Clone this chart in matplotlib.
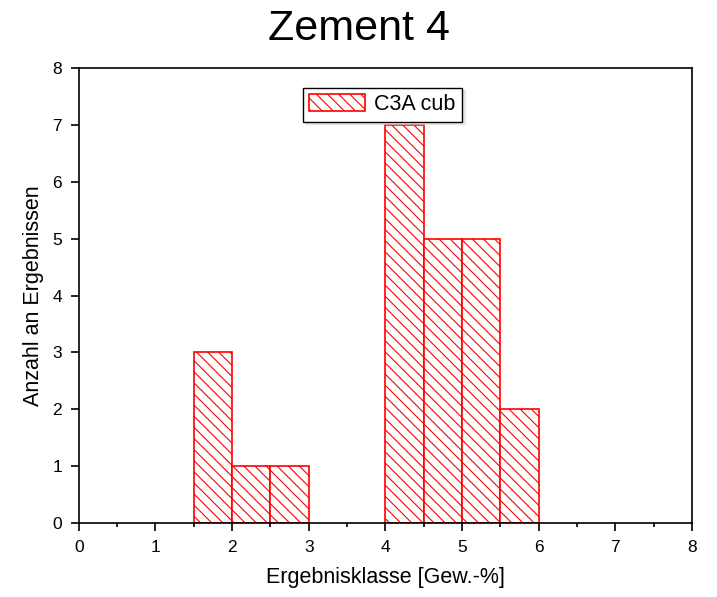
import numpy as np
import matplotlib
matplotlib.use('Agg')
import matplotlib.pyplot as plt
from matplotlib.ticker import MultipleLocator

plt.rcParams['font.family'] = ['Liberation Sans', 'DejaVu Sans']
plt.rcParams['hatch.color'] = 'red'
plt.rcParams['hatch.linewidth'] = 0.8

# Klassengrenzen (links) und Anzahl
bin_left = [1.5, 2.0, 2.5, 4.0, 4.5, 5.0, 5.5]
counts = [3, 1, 1, 7, 5, 5, 2]
bin_width = 0.5

fig = plt.figure(figsize=(7.17, 5.97), dpi=100)
ax = fig.add_axes([0.110, 0.124, 0.855, 0.762])

ax.bar(bin_left, counts, width=bin_width, align='edge', facecolor='white',
       edgecolor='red', linewidth=1.2, hatch='\\\\\\', label='C3A cub')

ax.set_xlim(0, 8)
ax.set_ylim(0, 8)
ax.xaxis.set_major_locator(MultipleLocator(1))
ax.xaxis.set_minor_locator(MultipleLocator(0.5))
ax.yaxis.set_major_locator(MultipleLocator(1))
ax.tick_params(which='major', direction='out', length=6, width=1.2, labelsize=12.5, pad=6)
ax.tick_params(which='minor', direction='out', length=3, width=1.2)
for s in ax.spines.values():
    s.set_linewidth(1.2)

ax.set_xlabel('Ergebnisklasse [Gew.-%]', fontsize=15.5, labelpad=9)
ax.set_ylabel('Anzahl an Ergebnissen', fontsize=15.5, labelpad=6)
fig.suptitle('Zement 4', fontsize=31, y=0.985)

leg = ax.legend(loc='upper center', bbox_to_anchor=(0.495, 0.957), fontsize=15.5,
                fancybox=False, shadow={'color': '0.85'}, edgecolor='black', framealpha=1,
                handlelength=2.6, handleheight=0.8, borderpad=0.3, handletextpad=0.4,
                borderaxespad=0)
leg.get_frame().set_linewidth(1.0)

fig.savefig('out.png', dpi=100)
